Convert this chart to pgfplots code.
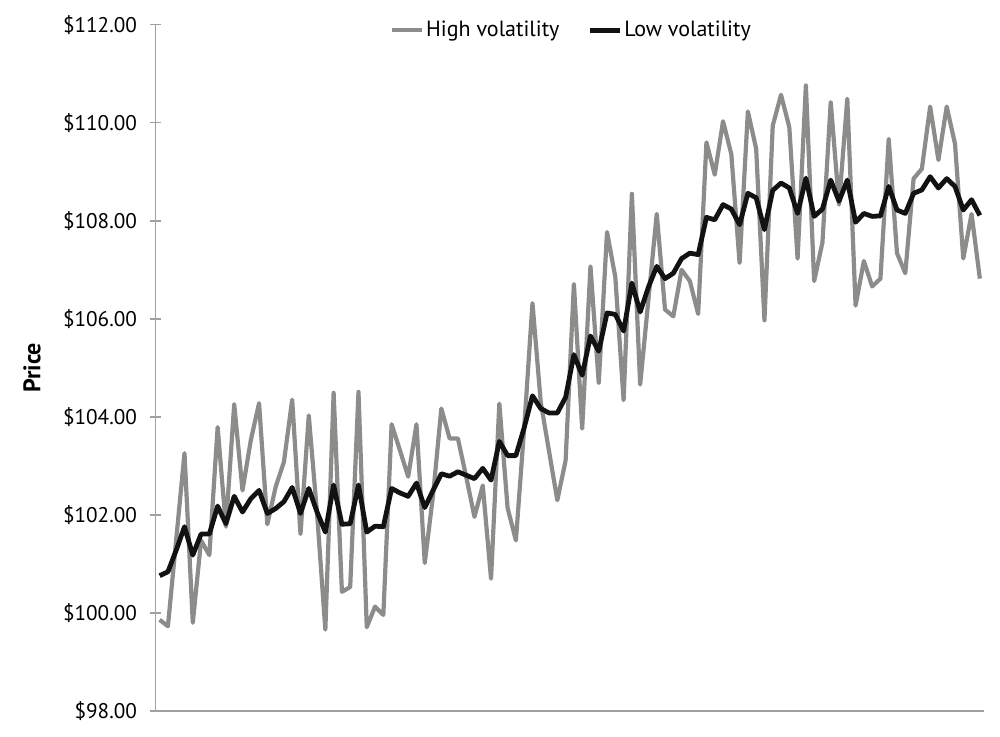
\documentclass[border=0pt]{standalone}
\usepackage{fontspec}
\setmainfont{PT Sans}
\usepackage{pgfplots}
\pgfplotsset{compat=1.18}
\definecolor{hv}{RGB}{140,140,138}
\definecolor{lv}{RGB}{18,18,18}
\definecolor{axc}{RGB}{160,160,160}
\begin{document}
\begin{tikzpicture}
\begin{axis}[
 scale only axis, width=414.25pt, height=343.15pt,
 xmin=-0.5, xmax=99.5, ymin=98, ymax=112,
 axis x line*=bottom, axis y line*=left,
 axis line style={axc, line width=0.85pt},
 xtick=\empty,
 ytick={98,100,102,104,106,108,110,112},
 yticklabels={\$98.00,\$100.00,\$102.00,\$104.00,\$106.00,\$108.00,\$110.00,\$112.00},
 tick align=center, major tick length=5.5pt,
 tick style={axc, line width=0.75pt},
 yticklabel style={font=\fontsize{10.6}{12}\selectfont, xshift=-3pt},
 ylabel={Price},
 ylabel style={at={(axis description cs:-0.149,0.5)}, anchor=center, font=\bfseries\fontsize{12}{14}\selectfont},
 legend style={at={(0.502,0.992)}, anchor=center, draw=none, fill=none, font=\fontsize{11}{13}\selectfont, legend columns=2, nodes={inner xsep=1pt}, /tikz/every even column/.append style={column sep=13pt}},
 legend image code/.code={\draw[#1] (0pt,0pt) -- (15pt,0pt);},
]
\addplot[hv, line width=2.1pt, line join=round] coordinates {
(0,99.86)(1,99.73)(2,101.5)(3,103.26)(4,99.80)(5,101.48)(6,101.18)(7,103.79)(8,101.76)(9,104.26)
(10,102.50)(11,103.52)(12,104.28)(13,101.81)(14,102.57)(15,103.08)(16,104.35)(17,101.61)(18,104.03)(19,102.03)
(20,99.66)(21,104.49)(22,100.43)(23,100.53)(24,104.51)(25,99.71)(26,100.13)(27,99.96)(28,103.85)(29,103.32)
(30,102.78)(31,103.85)(32,101.02)(33,102.4)(34,104.17)(35,103.56)(36,103.56)(37,102.78)(38,101.96)(39,102.60)
(40,100.70)(41,104.27)(42,102.14)(43,101.48)(44,103.77)(45,106.32)(46,104.3)(47,103.3)(48,102.30)(49,103.11)
(50,106.71)(51,103.76)(52,107.07)(53,104.69)(54,107.77)(55,106.85)(56,104.34)(57,108.55)(58,104.66)(59,106.4)
(60,108.14)(61,106.19)(62,106.05)(63,107.00)(64,106.77)(65,106.10)(66,109.60)(67,108.94)(68,110.03)(69,109.36)
(70,107.14)(71,110.23)(72,109.47)(73,105.97)(74,109.94)(75,110.57)(76,109.91)(77,107.23)(78,110.76)(79,106.77)
(80,107.56)(81,110.42)(82,108.33)(83,110.49)(84,106.27)(85,107.18)(86,106.66)(87,106.82)(88,109.67)(89,107.34)
(90,106.93)(91,108.86)(92,109.06)(93,110.33)(94,109.24)(95,110.33)(96,109.57)(97,107.23)(98,108.14)(99,106.82)
};
\addplot[lv, line width=2.4pt, line join=round] coordinates {
(0,100.76)(1,100.84)(2,101.28)(3,101.76)(4,101.18)(5,101.61)(6,101.61)(7,102.18)(8,101.82)(9,102.38)
(10,102.06)(11,102.33)(12,102.50)(13,102.03)(14,102.13)(15,102.27)(16,102.56)(17,102.03)(18,102.54)(19,102.06)
(20,101.65)(21,102.61)(22,101.81)(23,101.82)(24,102.61)(25,101.65)(26,101.77)(27,101.76)(28,102.54)(29,102.45)
(30,102.38)(31,102.65)(32,102.15)(33,102.50)(34,102.84)(35,102.79)(36,102.88)(37,102.81)(38,102.74)(39,102.95)
(40,102.71)(41,103.50)(42,103.21)(43,103.21)(44,103.78)(45,104.43)(46,104.17)(47,104.08)(48,104.08)(49,104.40)
(50,105.27)(51,104.85)(52,105.65)(53,105.34)(54,106.12)(55,106.09)(56,105.75)(57,106.73)(58,106.14)(59,106.65)
(60,107.07)(61,106.82)(62,106.93)(63,107.23)(64,107.34)(65,107.31)(66,108.07)(67,108.02)(68,108.33)(69,108.24)
(70,107.92)(71,108.56)(72,108.47)(73,107.82)(74,108.62)(75,108.77)(76,108.67)(77,108.15)(78,108.87)(79,108.09)
(80,108.24)(81,108.83)(82,108.40)(83,108.83)(84,107.97)(85,108.15)(86,108.09)(87,108.10)(88,108.70)(89,108.22)
(90,108.15)(91,108.56)(92,108.63)(93,108.90)(94,108.67)(95,108.86)(96,108.70)(97,108.22)(98,108.43)(99,108.11)
};
\legend{High volatility, Low volatility}
\end{axis}
\pgfresetboundingbox
\path[use as bounding box] (-77.75pt,-12.5pt) rectangle (422.25pt,355.5pt);
\end{tikzpicture}
\end{document}
